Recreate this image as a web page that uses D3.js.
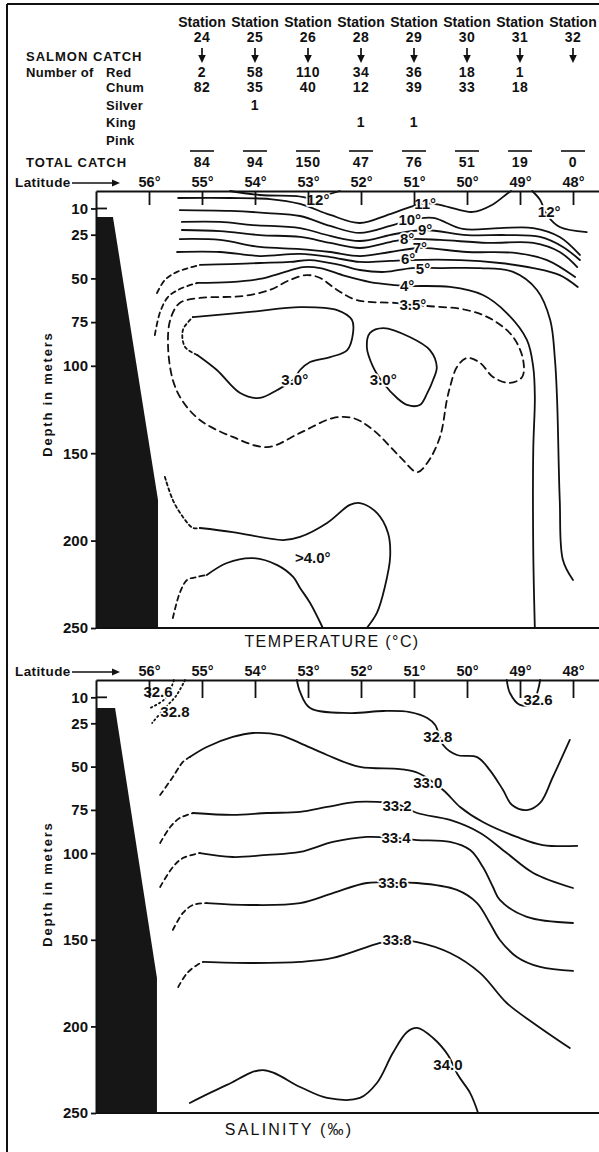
<!DOCTYPE html>
<html><head><meta charset="utf-8">
<script src="https://cdn.jsdelivr.net/npm/d3@7"></script>
<style>
body{margin:0;background:#fff;}
svg{display:block;}
text{font-family:"Liberation Sans",Arial,sans-serif;fill:#111;}
</style></head><body>
<svg id="chart" width="599" height="1152"></svg>
<script>
// ---------------- DATA ----------------
const stationIds  = ["24","25","26","28","29","30","31","32"];
const stationLats = [55,54,53,52,51,50,49,48];
const catchRed    = [2,58,110,34,36,18,1,null];
const catchChum   = [82,35,40,12,39,33,18,null];
const catchSilver = [null,1,null,null,null,null,null,null];
const catchKing   = [null,null,null,1,1,null,null,null];
const catchPink   = [null,null,null,null,null,null,null,null];
const catchTotal  = [84,94,150,47,76,51,19,0];
const latTicks    = [56,55,54,53,52,51,50,49,48];
const depthTicks  = [10,25,50,75,100,150,200,250];

// bottom (shelf) outline, [latitude, depth m]
const shelfTemp = [[57,14.9],[56.68,14.9],[55.83,176.8],[55.83,250],[57,250]];
const shelfSal  = [[57,16.2],[56.64,16.2],[55.85,172.1],[55.85,250],[57,250]];

// temperature isotherms [latitude, depth m]
const isoT12a = [[54.47,0],[53.91,2.3],[53.21,2.9],[52.96,4.0],[52.74,2.9],[52.40,0]];
const isoT12b = [[48.77,0],[48.62,5.1],[48.49,13.7],[48.25,20.6],[47.74,23.5]];
const isoT11 = [[55.45,4.0],[54.47,4.0],[53.72,4.6],[53.15,7.4],[52.58,13.7],[52.02,18.3],[51.45,13.2],[50.79,6.9],[50.42,8.6],[49.89,12.0],[49.53,8.0],[49.25,1.7],[49.17,0]];
const isoT10 = [[55.42,10.9],[54.47,11.4],[53.77,12.6],[53.15,14.3],[52.58,20.0],[52.02,24.0],[51.45,20.0],[51.08,16.6],[50.64,15.4],[50.08,21.7],[49.38,21.2],[48.75,21.2],[48.25,26.3],[47.87,36.6]];
const isoT9 = [[55.38,17.7],[54.66,17.7],[54.04,19.5],[53.15,21.2],[52.58,25.7],[52.02,28.6],[51.36,24.6],[50.79,22.3],[50.00,25.2],[49.25,25.2],[48.62,26.3],[48.19,32.0],[47.87,39.5]];
const isoT8 = [[55.38,22.3],[54.66,22.9],[53.91,25.2],[53.15,26.3],[52.58,29.7],[52.02,32.6],[51.45,29.2],[51.11,27.5],[50.51,28.0],[49.62,29.7],[48.75,29.7],[48.25,34.9],[47.92,43.5]];
const isoT7 = [[55.42,27.5],[54.66,28.0],[53.91,32.0],[53.15,33.2],[52.58,34.9],[52.02,37.2],[51.45,34.9],[50.89,32.6],[50.00,34.9],[49.06,35.5],[48.49,39.5],[47.96,49.2]];
const isoT6 = [[55.47,34.9],[54.66,34.9],[53.91,37.2],[53.15,36.0],[52.58,37.8],[52.02,40.6],[51.45,40.0],[51.11,39.5],[50.13,39.5],[49.38,41.2],[48.75,44.1],[48.25,48.1],[47.91,54.9]];
const isoT5Dash = [[55.85,58.4],[55.70,50.9],[55.47,46.3],[55.04,42.3]];
const isoT5 = [[55.04,42.3],[54.47,41.8],[53.91,41.2],[53.34,40.6],[52.96,39.5],[52.40,42.3],[52.02,45.2],[51.55,46.3],[51.04,44.1],[50.51,44.1],[49.75,44.1],[49.13,46.3],[48.68,56.6],[48.43,73.8],[48.34,96.7],[48.30,119.6],[48.25,176.8],[48.19,211.1],[48.00,222.5]];
const isoT4Dash = [[55.89,82.4],[55.79,69.2],[55.64,60.6],[55.42,56.1],[55.09,52.6]];
const isoT4 = [[55.09,52.6],[54.47,52.1],[53.91,50.3],[53.43,46.3],[53.09,43.5],[52.77,44.1],[52.30,48.6],[51.83,52.1],[51.36,53.8],[51.13,54.3],[50.32,54.9],[49.70,59.5],[49.25,69.8],[48.87,85.2],[48.75,100.7],[48.72,117.8],[48.75,148.2],[48.75,205.4],[48.72,250]];
const isoT35 = [[51.02,65.2],[50.75,65.8],[50.00,68.1],[49.51,73.8],[49.13,83.5],[48.94,96.7],[48.96,106.4],[49.19,109.8],[49.51,106.4],[49.75,98.4],[50.00,95.5],[50.19,100.7],[50.32,112.1],[50.38,119.6],[50.51,140.7],[50.75,155.6],[50.94,160.8],[51.26,152.2],[51.77,136.7],[52.15,129.9],[52.53,129.9],[53.15,138.4],[53.77,146.5],[54.42,140.7],[55.04,131.0],[55.38,119.6],[55.55,108.1],[55.64,89.2],[55.60,73.8],[55.42,64.1],[55.04,61.2],[54.23,60.1],[53.72,56.6],[53.34,50.9],[53.02,48.1],[52.77,49.8],[52.45,56.6],[52.08,62.4],[51.32,64.1]];
const isoT30a = [[55.17,72.1],[54.09,69.2],[53.15,66.4],[52.45,68.1],[52.17,73.8],[52.15,81.2],[52.26,91.0],[52.58,95.0],[52.96,97.8],[53.15,102.4],[53.28,108.1],[53.58,113.8],[53.91,118.4],[54.28,115.6],[54.72,102.4],[55.09,93.8]];
const isoT30aDash = [[55.09,93.8],[55.32,89.2],[55.36,79.5],[55.17,72.1]];
const isoT30b = [[51.83,81.2],[51.58,78.4],[51.08,83.5],[50.70,91.0],[50.57,100.7],[50.64,108.1],[50.75,115.6],[50.89,122.4],[51.13,122.4],[51.32,118.4],[51.58,109.8],[51.77,100.7],[51.89,89.2]];
const isoT40aDash = [[55.70,163.6],[55.55,176.8],[55.36,186.5],[55.17,192.8],[55.04,192.8]];
const isoT40a = [[55.04,192.8],[54.42,195.1],[53.47,199.7],[53.15,197.9],[52.64,189.9],[52.21,179.6],[52.02,178.5],[51.70,184.2],[51.49,195.7],[51.45,209.4],[51.55,226.5],[51.70,241.4],[51.89,250]];
const isoT40bDash = [[55.55,244.3],[55.42,230.0],[55.28,222.5],[55.09,220.8],[54.91,219.7]];
const isoT40b = [[54.91,219.7],[54.53,212.8],[54.04,210.0],[53.58,214.0],[53.28,220.8],[53.15,227.1],[52.96,235.7],[52.72,250]];

// salinity isohalines [latitude, depth m]
const isoS326a = [[55.53,0],[55.60,5.8],[55.72,11.5],[55.98,16.2]];
const isoS328a = [[55.32,0],[55.49,9.2],[55.70,16.2],[55.94,24.8]];
const isoS326b = [[49.25,0],[49.19,7.5],[49.00,14.4],[48.77,13.9],[48.66,5.8],[48.62,0]];
const isoS328b = [[53.21,0],[53.15,6.9],[52.96,16.2],[52.21,19.1],[51.58,17.9],[51.08,18.5],[50.75,21.9],[50.60,26.0],[50.45,37.5],[50.19,43.3],[49.81,44.5],[49.57,52.0],[49.32,63.5],[49.15,72.2],[48.87,75.1],[48.62,71.0],[48.38,56.0],[48.06,34.6]];
const isoS330Dash = [[55.79,66.4],[55.55,56.0],[55.36,47.3],[55.23,44.5]];
const isoS330 = [[55.23,44.5],[54.91,38.7],[54.42,32.9],[54.04,30.6],[53.53,31.8],[53.15,36.4],[52.64,43.3],[52.02,50.2],[51.26,51.4],[50.92,53.7],[50.45,63.5],[50.13,73.3],[49.70,82.0],[49.06,90.6],[48.57,95.3],[47.92,95.8]];
const isoS332Dash = [[55.79,94.1],[55.60,84.9],[55.42,79.7],[55.17,76.8]];
const isoS332 = [[55.17,76.8],[54.42,77.9],[53.77,76.8],[53.15,76.2],[52.64,73.3],[52.08,70.4],[51.70,70.4],[51.26,72.2],[50.94,76.8],[50.32,80.8],[49.75,88.3],[49.25,99.9],[48.75,111.4],[48.00,120.1]];
const isoS334Dash = [[55.79,119.5],[55.55,108.0],[55.36,102.8],[55.04,99.9]];
const isoS334 = [[55.04,99.9],[54.42,102.2],[53.77,101.0],[53.15,99.3],[52.53,93.5],[51.89,90.6],[51.36,91.2],[50.94,92.4],[50.32,93.5],[49.94,98.2],[49.70,108.0],[49.51,119.5],[49.38,127.0],[48.87,136.8],[48.00,140.3]];
const isoS336Dash = [[55.55,144.3],[55.36,134.5],[55.17,129.9],[54.91,128.8]];
const isoS336 = [[54.91,128.8],[54.09,129.9],[53.15,128.8],[52.53,123.0],[51.89,117.2],[51.40,117.2],[50.94,117.2],[50.19,121.2],[49.81,128.8],[49.57,140.3],[49.38,150.1],[49.06,159.9],[48.62,165.7],[48.00,168.0]];
const isoS338Dash = [[55.45,177.3],[55.28,169.2],[55.09,164.5],[54.98,162.8]];
const isoS338 = [[54.98,162.8],[54.09,163.4],[53.15,162.8],[52.53,160.5],[51.64,151.8],[51.32,150.1],[50.94,151.3],[50.32,157.6],[49.75,169.2],[49.25,186.5],[48.75,198.0],[48.06,212.5]];
const isoS340 = [[55.23,244.2],[54.53,233.8],[53.85,225.2],[53.15,235.0],[52.64,241.3],[52.02,241.3],[51.70,232.7],[51.40,215.4],[51.13,203.2],[50.94,200.9],[50.64,206.7],[50.36,216.5],[50.17,228.1],[49.94,238.5],[49.79,250]];

// contour labels [latitude, depth m, text]
const tempLabels = [[52.81,5.1,"12°"],[50.79,7.4,"11°"],[51.08,16.6,"10°"],[50.79,22.3,"9°"],[51.13,27.5,"8°"],[50.89,32.6,"7°"],[51.11,38.9,"6°"],[50.83,44.6,"5°"],[51.13,54.3,"4°"],[51.02,65.2,"3.5°"],[48.45,12.0,"12°"],[53.25,108.1,"3.0°"],[51.58,108.1,"3.0°"],[52.91,210.0,">4.0°"]];
const salLabels = [[55.83,6.9,"32.6"],[55.51,18.5,"32.8"],[48.66,11.5,"32.6"],[50.55,32.9,"32.8"],[50.74,59.5,"33.0"],[51.32,72.7,"33.2"],[51.34,91.2,"33.4"],[51.40,117.2,"33.6"],[51.32,150.1,"33.8"],[50.36,222.3,"34.0"]];

// ---------------- STYLE CONFIG ----------------
const DASH_LONG = "7,5", DASH_MED = "5,4", DASH_FINE = "3,3", DOTS = "1.5,3";
const tempLines = [
  {pts:isoT12a},{pts:isoT12b},{pts:isoT11},{pts:isoT10},{pts:isoT9},{pts:isoT8},{pts:isoT7},{pts:isoT6},
  {pts:isoT5Dash,dash:DASH_MED},{pts:isoT5},{pts:isoT4Dash,dash:DASH_MED},{pts:isoT4},
  {pts:isoT35,dash:DASH_LONG,closed:true},
  {pts:isoT30a},{pts:isoT30aDash,dash:DASH_FINE},{pts:isoT30b,closed:true},
  {pts:isoT40aDash,dash:DASH_FINE},{pts:isoT40a},{pts:isoT40bDash,dash:DASH_MED},{pts:isoT40b}
];
const salLines = [
  {pts:isoS326a,dash:DOTS},{pts:isoS328a,dash:DOTS},{pts:isoS326b},{pts:isoS328b},
  {pts:isoS330Dash,dash:DASH_MED},{pts:isoS330},{pts:isoS332Dash,dash:DASH_MED},{pts:isoS332},
  {pts:isoS334Dash,dash:DASH_MED},{pts:isoS334},{pts:isoS336Dash,dash:DASH_MED},{pts:isoS336},
  {pts:isoS338Dash,dash:DASH_MED},{pts:isoS338},{pts:isoS340}
];

// ---------------- DRAW ----------------
const svg = d3.select("#chart");
const INK = "#111";
const x = d3.scaleLinear().domain([57,47.5]).range([96,599.5]);

// page border (scan frame)
svg.append("line").attr("x1",7).attr("x2",7).attr("y1",4).attr("y2",1152).attr("stroke",INK).attr("stroke-width",2);
svg.append("line").attr("x1",7).attr("x2",599).attr("y1",4).attr("y2",4).attr("stroke",INK).attr("stroke-width",2);

// ---- header table ----
const hdr = svg.append("g").attr("font-weight","bold");
function htext(tx,ty,t,anchor,size,ls){
  return hdr.append("text").attr("x",tx).attr("y",ty).attr("text-anchor",anchor||"start")
    .attr("font-size",size||13).attr("letter-spacing",ls||0).text(t);
}
htext(26,61,"SALMON CATCH","start",13,1);
htext(26,77,"Number of","start",13,0.3);
htext(106,77,"Red","start",13,0.3);
htext(106,92,"Chum","start",13,0.3);
htext(106,110,"Silver","start",13,0.3);
htext(106,127,"King","start",13,0.3);
htext(106,145,"Pink","start",13,0.3);
htext(26,167,"TOTAL  CATCH","start",13,1);

const catchRows = [[catchRed,77],[catchChum,92],[catchSilver,110],[catchKing,127],[catchPink,145]];
stationLats.forEach((lat,i)=>{
  const cx = x(lat);
  htext(cx,27,"Station","middle",14,0);
  htext(cx,42,stationIds[i],"middle",14,0.5);
  hdr.append("line").attr("x1",cx).attr("x2",cx).attr("y1",48).attr("y2",57).attr("stroke",INK).attr("stroke-width",1.7);
  hdr.append("path").attr("d",`M${cx-3.8},55L${cx+3.8},55L${cx},63Z`).attr("fill",INK);
  catchRows.forEach(([arr,ry])=>{ if(arr[i]!=null) htext(cx,ry,String(arr[i]),"middle",14,0.5); });
  hdr.append("line").attr("x1",cx-12).attr("x2",cx+12).attr("y1",151).attr("y2",151).attr("stroke",INK).attr("stroke-width",1.6);
  htext(cx,167,String(catchTotal[i]),"middle",14,0.5);
});

// ---- panel ----
const line = d3.line().curve(d3.curveCatmullRom.alpha(0.5));
const lineClosed = d3.line().curve(d3.curveCatmullRomClosed.alpha(0.5));

function drawPanel(y0, y1, lines, labels, shelf, title, titleY, titleLS, latY, tickLen, depthLabelY){
  const y = d3.scaleLinear().domain([0,250]).range([y0,y1]);
  const g = svg.append("g");
  // contour lines
  lines.forEach(l=>{
    const gen = l.closed ? lineClosed : line;
    g.append("path").attr("d", gen(l.pts.map(p=>[x(p[0]), y(p[1])])))
      .attr("fill","none").attr("stroke",INK).attr("stroke-width",1.8)
      .attr("stroke-linecap","round").attr("stroke-linejoin","round")
      .attr("stroke-dasharray", l.dash || null);
  });
  // labels
  labels.forEach(([la,dp,t])=>{
    g.append("text").attr("x",x(la)).attr("y",y(dp)).attr("dy","0.36em")
      .attr("text-anchor","middle").attr("font-size",15).attr("font-weight","bold")
      .attr("stroke","#fff").attr("stroke-width",3.5).attr("paint-order","stroke")
      .attr("stroke-linejoin","round").text(t);
  });
  // inner depth ticks (mostly hidden by the shelf)
  depthTicks.forEach(d=>{
    g.append("line").attr("x1",x(57)).attr("x2",x(57)+11).attr("y1",y(d)).attr("y2",y(d)).attr("stroke",INK).attr("stroke-width",1.8);
  });
  // shelf
  g.append("path").attr("d", d3.line()(shelf.map(p=>[x(p[0]),y(p[1])]))+"Z").attr("fill","#161616");
  // top axis (latitude)
  const ax = g.append("g").attr("transform",`translate(0,${y(0)})`)
    .call(d3.axisTop(x).tickValues(latTicks).tickSizeInner(-tickLen).tickSizeOuter(0).tickPadding(latY).tickFormat(d=>d+"°"));
  ax.select(".domain").attr("stroke",INK).attr("stroke-width",2);
  ax.selectAll(".tick line").attr("stroke",INK).attr("stroke-width",1.8);
  ax.selectAll(".tick text").attr("font-size",14.5).attr("font-weight","bold").attr("fill",INK).attr("font-family","Liberation Sans, Arial, sans-serif");
  // left axis (depth)
  const ay = g.append("g").attr("transform",`translate(${x(57)},0)`)
    .call(d3.axisLeft(y).tickValues(depthTicks).tickSizeInner(5).tickSizeOuter(0).tickPadding(3));
  ay.select(".domain").attr("stroke",INK).attr("stroke-width",2);
  ay.selectAll(".tick line").attr("stroke",INK).attr("stroke-width",1.8);
  ay.selectAll(".tick text").attr("font-size",15).attr("font-weight","bold").attr("fill",INK).attr("font-family","Liberation Sans, Arial, sans-serif");
  // bottom line
  g.append("line").attr("x1",x(57)).attr("x2",599).attr("y1",y(250)).attr("y2",y(250)).attr("stroke",INK).attr("stroke-width",2);
  // latitude arrow label
  const ly = y(0) - latY - 4;
  g.append("text").attr("x",15).attr("y",y(0)-latY).attr("font-size",13.5).attr("font-weight","bold").attr("letter-spacing",0.4).text("Latitude");
  g.append("line").attr("x1",72).attr("x2",113).attr("y1",ly).attr("y2",ly).attr("stroke",INK).attr("stroke-width",1.5);
  g.append("path").attr("d",`M112,${ly-3.5}L120,${ly}L112,${ly+3.5}Z`).attr("fill",INK);
  // depth axis title
  g.append("text").attr("transform",`translate(52,${depthLabelY}) rotate(-90)`).attr("text-anchor","middle")
    .attr("font-size",13).attr("font-weight","bold").attr("letter-spacing",1.8).text("Depth in meters");
  // panel title
  g.append("text").attr("x",title[1]).attr("y",titleY).attr("text-anchor","middle")
    .attr("font-size",16).attr("letter-spacing",titleLS).text(title[0]);
}

drawPanel(191, 628, tempLines, tempLabels, shelfTemp, ["TEMPERATURE (°C)",332], 647, 1.4, 4, 14, 394);
drawPanel(680, 1113, salLines, salLabels, shelfSal, ["SALINITY  (‰)",289], 1135, 2.2, 4, 18, 884);
</script>
</body></html>
